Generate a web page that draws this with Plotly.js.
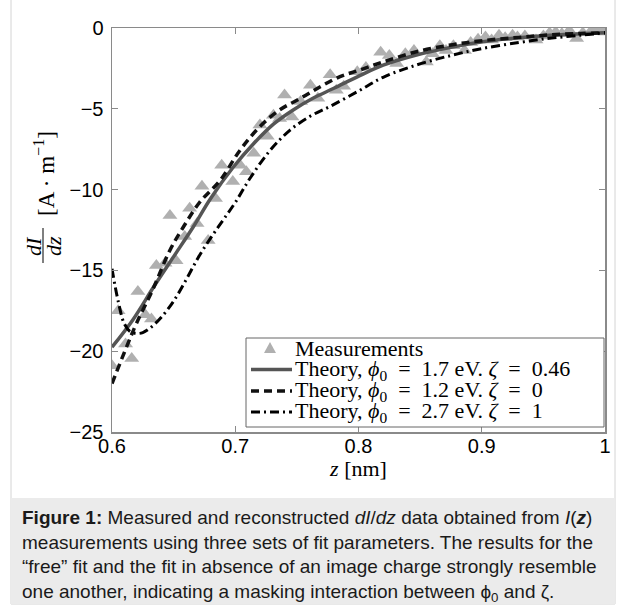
<!DOCTYPE html>
<html>
<head>
<meta charset="utf-8">
<script src="https://cdn.plot.ly/plotly-3.0.1.min.js"></script>
<style>
  html, body { margin: 0; padding: 0; background: #ffffff; }
  #chart { width: 626px; height: 612px; }
</style>
</head>
<body>
<div id="chart"></div>
<script>
// Measured dI/dz samples
const measZ = [0.600, 0.605, 0.611, 0.616, 0.621, 0.627, 0.632, 0.636, 0.643, 0.647,
               0.652, 0.659, 0.663, 0.669, 0.673, 0.678, 0.684, 0.689, 0.698, 0.704,
               0.709, 0.715, 0.720, 0.726, 0.731, 0.736, 0.740, 0.746, 0.753, 0.761,
               0.767, 0.777, 0.782, 0.788, 0.799, 0.806, 0.818, 0.825, 0.831, 0.838,
               0.845, 0.855, 0.860, 0.866, 0.871, 0.877, 0.886, 0.891, 0.897, 0.903,
               0.908, 0.914, 0.919, 0.925, 0.929, 0.935, 0.944, 0.950, 0.955, 0.960,
               0.965, 0.971, 0.977, 0.982, 0.990, 0.996, 1.000];
const measV = [-20.9, -17.5, -19.55, -20.45, -16.3, -17.75, -18.0, -14.7, -14.55, -11.6,
               -14.4, -12.9, -11.15, -12.1, -9.8, -13.15, -10.55, -8.5, -9.5, -8.5,
               -8.9, -7.75, -6.0, -6.7, -5.4, -5.6, -4.15, -5.5, -4.55, -3.55,
               -4.35, -2.9, -3.85, -3.6, -2.7, -2.45, -1.5, -1.7, -2.2, -1.6,
               -1.4, -2.1, -1.6, -1.1, -1.4, -1.1, -1.4, -0.9, -0.7, -0.55,
               -0.75, -0.45, -0.6, -0.45, -0.55, -0.5, -0.75, -0.5, -0.3, -0.25,
               -0.35, -0.15, -0.65, -0.3, -0.05, -0.05, -0.25];

// Theory, phi0 = 1.7 eV, zeta = 0.46
const fitAZ = [0.600, 0.617, 0.634, 0.650, 0.666, 0.680, 0.698, 0.715, 0.731, 0.747,
               0.763, 0.780, 0.801, 0.820, 0.847, 0.875, 0.901, 0.930, 0.955, 0.980, 1.000];
const fitAV = [-19.75, -18.05, -16.0, -14.15, -12.3, -10.55, -8.65, -7.15, -5.95, -5.07,
               -4.35, -3.73, -2.95, -2.3, -1.67, -1.2, -0.85, -0.6, -0.45, -0.35, -0.3];

// Theory, phi0 = 1.2 eV, zeta = 0
const fitBZ = [0.600, 0.612, 0.620, 0.633, 0.647, 0.658, 0.671, 0.688, 0.704, 0.720,
               0.736, 0.753, 0.769, 0.785, 0.801, 0.820, 0.847, 0.875, 0.901, 0.930,
               0.955, 0.980, 1.000];
const fitBV = [-22.0, -19.7, -18.25, -16.2, -13.75, -12.3, -10.8, -9.4, -7.55, -6.1,
               -5.07, -4.35, -3.63, -3.01, -2.6, -2.1, -1.47, -1.05, -0.78, -0.58,
               -0.43, -0.34, -0.3];

// Theory, phi0 = 2.7 eV, zeta = 1
const fitCZ = [0.600, 0.605, 0.610, 0.615, 0.620, 0.625, 0.632, 0.640, 0.650, 0.660,
               0.670, 0.680, 0.690, 0.700, 0.712, 0.728, 0.744, 0.761, 0.777, 0.800,
               0.820, 0.847, 0.875, 0.901, 0.930, 0.955, 0.980, 1.000];
const fitCV = [-14.9, -16.9, -18.3, -18.8, -18.9, -18.85, -18.5, -17.9, -16.9, -15.6,
               -14.2, -13.0, -11.9, -10.8, -9.3, -7.6, -6.35, -5.45, -4.85, -3.9,
               -3.05, -2.29, -1.7, -1.26, -0.9, -0.64, -0.45, -0.3];

const xTicks = [0.6, 0.7, 0.8, 0.9, 1];
const yTicks = [-25, -20, -15, -10, -5, 0];

const legendNames = [
  'Measurements',
  'Theory, <i>ϕ</i><sub>0</sub>&nbsp;&nbsp;=&nbsp;&nbsp;1.7 eV. <i>ζ</i>&nbsp;&nbsp;=&nbsp;&nbsp;0.46',
  'Theory, <i>ϕ</i><sub>0</sub>&nbsp;&nbsp;=&nbsp;&nbsp;1.2 eV. <i>ζ</i>&nbsp;&nbsp;=&nbsp;&nbsp;0',
  'Theory, <i>ϕ</i><sub>0</sub>&nbsp;&nbsp;=&nbsp;&nbsp;2.7 eV. <i>ζ</i>&nbsp;&nbsp;=&nbsp;&nbsp;1'
];

const captionText =
  '<b>Figure 1:</b> Measured and reconstructed <i>dI</i>/<i>dz</i> data obtained from <i>I</i>(<b><i>z</i></b>)<br>' +
  'measurements using three sets of fit parameters. The results for the<br>' +
  '“free” fit and the fit in absence of an image charge strongly resemble<br>' +
  'one another, indicating a masking interaction between ϕ<sub>0</sub> and ζ.';

// page geometry (pixels)
const W = 626, H = 612;
const M = { l: 112, r: 21, t: 28, b: 180 };
const pw = W - M.l - M.r, ph = H - M.t - M.b;
const px = v => (v - M.l) / pw;          // pixel x -> paper x
const py = v => (H - M.b - v) / ph;      // pixel y -> paper y

const serif = '"Liberation Serif", "DejaVu Serif", serif';
const sans = '"Liberation Sans", Arial, sans-serif';

const markerColor = '#b0b0b0';
const styles = [
  null,
  { color: '#555555', width: 3.5 },
  { color: '#111111', width: 3.5, dash: '8px,5px' },
  { color: '#000000', width: 3, dash: '9px,4px,2px,4px' }
];

const traces = [
  {
    x: measZ, y: measV, name: legendNames[0], type: 'scatter', mode: 'markers',
    marker: { symbol: 'triangle-up', size: 13, color: markerColor }
  },
  {
    x: fitAZ, y: fitAV, name: legendNames[1], type: 'scatter', mode: 'lines',
    line: Object.assign({ shape: 'spline', smoothing: 1 }, styles[1])
  },
  {
    x: fitBZ, y: fitBV, name: legendNames[2], type: 'scatter', mode: 'lines',
    line: Object.assign({ shape: 'spline', smoothing: 1 }, styles[2])
  },
  {
    x: fitCZ, y: fitCV, name: legendNames[3], type: 'scatter', mode: 'lines',
    line: Object.assign({ shape: 'spline', smoothing: 1 }, styles[3])
  }
];

const axisCommon = {
  showgrid: false, zeroline: false, showline: true, linecolor: '#8a8a8a', linewidth: 1.5,
  mirror: 'ticks', ticks: 'inside', ticklen: 6, tickwidth: 1, tickcolor: '#8a8a8a',
  tickfont: { family: sans, size: 20, color: '#000000' }
};

// legend drawn as a boxed key inside the axes
const key = { left: 246, right: 604, top: 338, bottom: 427,
              symX0: 251, symX1: 292, textX: 293, rows: [348, 369.5, 391, 412] };

const shapes = [
  // card frame
  { type: 'rect', xref: 'paper', yref: 'paper', layer: 'below',
    x0: px(11), x1: px(615), y0: py(604), y1: py(-2),
    line: { color: '#d4d4d4', width: 1 }, fillcolor: 'rgba(0,0,0,0)' },
  // caption panel
  { type: 'rect', xref: 'paper', yref: 'paper', layer: 'below',
    x0: px(11), x1: px(615), y0: py(604), y1: py(498),
    line: { width: 0 }, fillcolor: '#ebebeb' },
  // fraction bar of the y-axis label
  { type: 'line', xref: 'paper', yref: 'paper',
    x0: px(43), x1: px(43), y0: py(228), y1: py(263),
    line: { color: '#000', width: 1 } },
  // key box
  { type: 'rect', xref: 'paper', yref: 'paper',
    x0: px(key.left), x1: px(key.right), y0: py(key.bottom), y1: py(key.top),
    line: { color: '#666666', width: 1 }, fillcolor: '#ffffff' },
  // key: triangle symbol
  { type: 'path', xref: 'paper', yref: 'paper',
    path: 'M ' + px(264) + ',' + py(key.rows[0] + 5) + ' L ' + px(276) + ',' + py(key.rows[0] + 5) +
          ' L ' + px(270) + ',' + py(key.rows[0] - 6) + ' Z',
    line: { width: 0 }, fillcolor: markerColor }
];
for (let i = 1; i <= 3; i++) {
  shapes.push({ type: 'line', xref: 'paper', yref: 'paper',
    x0: px(key.symX0), x1: px(key.symX1), y0: py(key.rows[i]), y1: py(key.rows[i]),
    line: styles[i] });
}

const annotations = [
  { xref: 'paper', yref: 'paper', x: px(33), y: py(246), xanchor: 'center', yanchor: 'middle',
    text: '<i>dI</i>', textangle: -90, showarrow: false,
    font: { family: serif, size: 22, color: '#000' } },
  { xref: 'paper', yref: 'paper', x: px(53), y: py(246), xanchor: 'center', yanchor: 'middle',
    text: '<i>dz</i>', textangle: -90, showarrow: false,
    font: { family: serif, size: 22, color: '#000' } },
  { xref: 'paper', yref: 'paper', x: px(44), y: py(174), xanchor: 'center', yanchor: 'middle',
    text: '[A · m<sup>−1</sup>]', textangle: -90, showarrow: false,
    font: { family: serif, size: 23, color: '#000' } },
  { xref: 'paper', yref: 'paper', x: px(20), y: py(505), xanchor: 'left', yanchor: 'top',
    align: 'left', text: captionText, showarrow: false,
    font: { family: sans, size: 19, color: '#1a1a1a' } }
];
legendNames.forEach((name, i) => {
  annotations.push({ xref: 'paper', yref: 'paper', x: px(key.textX), y: py(key.rows[i]),
    xanchor: 'left', yanchor: 'middle', text: name, showarrow: false,
    font: { family: serif, size: 22, color: '#000' } });
});

const layout = {
  width: W, height: H,
  margin: M,
  paper_bgcolor: '#ffffff', plot_bgcolor: '#ffffff',
  showlegend: false,
  xaxis: Object.assign({}, axisCommon, {
    range: [0.6, 1], tickmode: 'array', tickvals: xTicks, ticktext: xTicks.map(String),
    ticklabelstandoff: -5,
    title: { text: '<i>z</i> [nm]', font: { family: serif, size: 22, color: '#000' }, standoff: 0 }
  }),
  yaxis: Object.assign({}, axisCommon, {
    range: [-25, 0], tickmode: 'array', tickvals: yTicks,
    ticktext: yTicks.map(v => (v < 0 ? '\u2212' + Math.abs(v) : String(v))),
    ticklabelstandoff: 3
  }),
  shapes: shapes,
  annotations: annotations
};

Plotly.newPlot('chart', traces, layout, { displayModeBar: false, staticPlot: true });
</script>
</body>
</html>
